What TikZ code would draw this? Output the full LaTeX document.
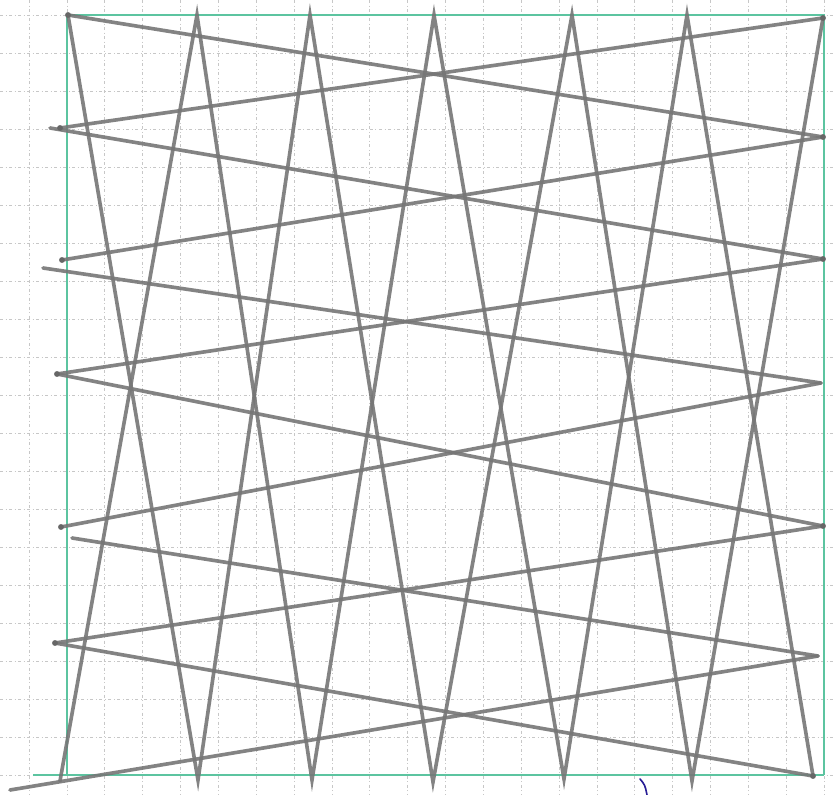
\documentclass[tikz,border=0pt]{standalone}
\usepackage{xcolor}
\usepackage{tikz}
\definecolor{framegreen}{RGB}{92,196,160}
\definecolor{pencil}{RGB}{118,118,118}
\definecolor{inkblue}{RGB}{40,30,150}

\begin{document}
\begin{tikzpicture}[
  x=0.03cm, y=-0.03cm,
  gridline/.style={draw=black!22, line width=0.6pt,
    dash pattern=on 2.6pt off 2.2pt on 0.7pt off 2.2pt},
  frame/.style={draw=framegreen, line width=1.8pt},
  stroke/.style={draw=pencil, line width=3.1pt, line cap=round, opacity=0.9},
  vertex/.style={fill=black!60, inner sep=0pt, minimum size=5pt, circle}
]

\useasboundingbox[fill=white] (0,0) rectangle (833,795);

% squared paper
\foreach \k in {-1,...,20}
  \draw[gridline] ({67+37.85*\k},0) -- ({67+37.85*\k},795);
\foreach \k in {0,...,20}
  \draw[gridline] (0,{15+38*\k}) -- (833,{15+38*\k});

% frame
\draw[frame] (67,15) -- (824,15) -- (824,775);
\draw[frame] (67,15) -- (67,775);
\draw[frame] (33,775) -- (824,775);

% top and bottom points
\coordinate (t0) at (68,15);
\coordinate (t1) at (197,15);
\coordinate (t2) at (310,15);
\coordinate (t3) at (434,15);
\coordinate (t4) at (572,15);
\coordinate (t5) at (687,15);
\coordinate (t6) at (823,18);
\coordinate (b0) at (60,781);
\coordinate (b1) at (198,780);
\coordinate (b2) at (312,780);
\coordinate (b3) at (433,782);
\coordinate (b4) at (564,779);
\coordinate (b5) at (692,781);
\coordinate (b6) at (813,776);

% left and right points
\coordinate (l1) at (60,128);
\coordinate (l1s) at (50,128);
\coordinate (l2) at (62,260);
\coordinate (l2s) at (43,268);
\coordinate (l3) at (57,374);
\coordinate (l4) at (61,527);
\coordinate (l4s) at (72,538);
\coordinate (l5) at (55,643);
\coordinate (l6s) at (10,790);
\coordinate (r1) at (823,137);
\coordinate (r2) at (823,259);
\coordinate (r3) at (821,383);
\coordinate (r4) at (823,526);
\coordinate (r5) at (818,656);

% crossing strokes, top to bottom
\draw[stroke] (t0) -- (b1) -- (t2) -- (b3) -- (t4) -- (b5) -- (t6);
\draw[stroke] (b0) -- (t1) -- (b2) -- (t3) -- (b4) -- (t5) -- (b6);

% crossing strokes, left to right
\draw[stroke] (t0) -- (r1);
\draw[stroke] (l1) -- (t6);
\draw[stroke] (l1s) -- (r2);
\draw[stroke] (l2) -- (r1);
\draw[stroke] (l2s) -- (r3);
\draw[stroke] (l3) -- (r2);
\draw[stroke] (l3) -- (r4);
\draw[stroke] (l4) -- (r3);
\draw[stroke] (l4s) -- (r5);
\draw[stroke] (l5) -- (r4);
\draw[stroke] (l5) -- (b6);
\draw[stroke] (l6s) -- (r5);

% pencil dots
\foreach \p in {t0,t6,b6,l1,l2,l3,l4,l5,r1,r2,r4}
  \node[vertex] at (\p) {};

% stray pen mark
\draw[inkblue, line width=1.4pt, line cap=round] (640,779) .. controls (645,785) .. (647,795);

\end{tikzpicture}
\end{document}
